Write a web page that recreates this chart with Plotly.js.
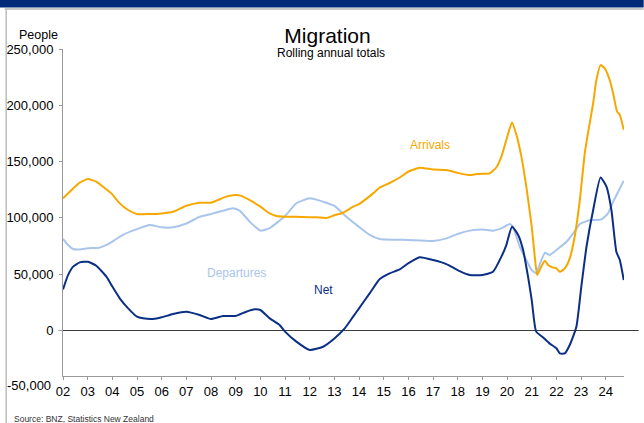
<!DOCTYPE html>
<html><head><meta charset="utf-8">
<script src="https://cdn.plot.ly/plotly-3.0.1.min.js"></script>
<style>html,body{margin:0;padding:0;background:#fff;overflow:hidden}#chart{width:644px;height:423px}</style>
</head><body><div id="chart"></div>
<script>
const yearTicks = [2002,2003,2004,2005,2006,2007,2008,2009,2010,2011,2012,2013,2014,2015,2016,2017,2018,2019,2020,2021,2022,2023,2024];
const yearTickText = ['02','03','04','05','06','07','08','09','10','11','12','13','14','15','16','17','18','19','20','21','22','23','24'];
const valueTicks = [0,50000,100000,150000,200000,250000];
const valueTickText = ['0','50,000','100,000','150,000','200,000','250,000'];
const bottomLabel = '-50,000';
const bottomValue = -50000;

const arrivalsX = [2002.00,2002.41,2002.68,2003.01,2003.35,2003.62,2003.96,2004.30,2004.64,2005.00,2005.51,2006.00,2006.46,2007.00,2007.54,2008.00,2008.22,2008.62,2009.00,2009.16,2009.57,2010.00,2010.38,2010.65,2011.00,2011.46,2012.00,2012.27,2012.68,2013.00,2013.35,2013.76,2014.00,2014.57,2014.84,2015.24,2015.65,2015.99,2016.46,2017.00,2017.54,2017.99,2018.49,2018.76,2019.00,2019.30,2019.57,2019.77,2019.97,2020.20,2020.38,2020.58,2020.78,2021.00,2021.11,2021.22,2021.35,2021.53,2021.66,2021.84,2022.00,2022.14,2022.34,2022.54,2022.74,2022.95,2023.15,2023.29,2023.49,2023.62,2023.79,2023.96,2024.16,2024.30,2024.46,2024.57,2024.73];
const arrivals = [117400,126200,131400,134500,132200,127700,121800,112900,107000,103400,103400,104000,105500,110800,113500,113500,115300,118900,120300,120000,115800,110000,104000,101700,101100,101100,100500,100500,99900,102300,104600,110000,112300,121800,127000,131000,135900,141000,144600,143000,142500,140000,138000,139000,139300,139600,145000,154400,169200,184800,173600,154400,127700,92200,68500,49300,55200,62000,58200,56100,55200,52200,55200,64100,83300,116000,157400,176600,201800,222500,235700,232800,222500,210600,194400,191500,178200];

const departuresX = [2002.00,2002.20,2002.41,2002.68,2003.01,2003.49,2003.76,2004.00,2004.43,2005.00,2005.51,2006.00,2006.46,2007.00,2007.54,2008.00,2008.49,2008.89,2009.16,2009.57,2010.00,2010.38,2011.00,2011.46,2012.00,2012.54,2013.00,2013.49,2014.00,2014.43,2014.84,2015.99,2017.00,2017.54,2017.99,2018.49,2019.00,2019.43,2019.77,2020.11,2020.24,2020.51,2020.78,2021.00,2021.18,2021.31,2021.54,2021.72,2022.00,2022.41,2022.68,2022.95,2023.35,2023.82,2024.09,2024.30,2024.50,2024.73];
const departures = [81300,76000,72400,72000,73000,73600,76000,79000,85000,90000,93700,91600,91600,95000,101000,103500,106400,108500,106400,96600,88700,91000,101700,113000,117400,114400,110600,101000,92000,85000,81300,80400,79500,81800,85700,88700,89800,88700,90700,94600,92200,74400,62600,53700,50800,58000,69000,67000,71500,78800,86300,94600,98000,98700,104000,114400,123000,133000];

const netX = [2002.00,2002.20,2002.41,2002.68,2003.01,2003.35,2003.76,2004.00,2004.30,2004.64,2005.00,2005.24,2005.65,2006.00,2006.46,2007.00,2007.54,2008.00,2008.49,2009.00,2009.43,2009.77,2010.00,2010.38,2010.78,2011.00,2011.46,2012.00,2012.54,2013.00,2013.42,2013.76,2014.00,2014.43,2014.84,2015.24,2015.65,2015.99,2016.46,2017.00,2017.54,2017.99,2018.49,2019.00,2019.43,2019.77,2019.97,2020.20,2020.45,2020.65,2020.85,2021.00,2021.18,2021.45,2021.72,2022.00,2022.14,2022.34,2022.54,2022.81,2023.01,2023.22,2023.49,2023.79,2024.03,2024.23,2024.43,2024.57,2024.73];
const net = [36500,49000,56700,60500,61000,57500,47800,39000,28600,19700,12300,10800,10200,11700,14700,16700,13800,10200,12900,12900,16700,18800,18200,10800,4900,-1000,-9900,-17300,-14400,-7000,1900,12300,19700,33000,45800,50800,54300,59600,65000,62600,59000,53700,49300,49300,52200,65600,75900,92200,84800,71500,47800,27000,-1000,-6000,-11400,-15800,-20300,-20300,-12900,3400,39000,74400,107000,136000,127700,107000,70000,62600,44800];

const colors = {Arrivals:'#f6a800', Departures:'#a9c5ec', Net:'#0a2f84'};

// Layout geometry (pixels)
const W = 644, H = 423;
const L = 63.3, R = 624.3, T = 49, B = 376;
const xRange = [2002, 2024.74];
const yRange = [-40400, 250000];
const FONT = 'Liberation Sans, Arial, sans-serif';
const px2x = p => (p - L) / (R - L);
const py2y = p => (B - p) / (B - T);
const v2paper = v => (v - yRange[0]) / (yRange[1] - yRange[0]);

const traces = [
  {x: departuresX, y: departures, name: 'Departures', line:{color: colors.Departures, width:2, shape:'spline', smoothing:0.5}},
  {x: arrivalsX, y: arrivals, name: 'Arrivals', line:{color: colors.Arrivals, width:2, shape:'spline', smoothing:0.5}},
  {x: netX, y: net, name: 'Net', line:{color: colors.Net, width:2, shape:'spline', smoothing:0.5}}
].map(t => Object.assign({type:'scatter', mode:'lines', hoverinfo:'skip', cliponaxis:false}, t));

const layout = {
  width: W, height: H,
  margin: {l: L, r: W - R, t: T, b: H - B, pad: 0},
  paper_bgcolor: '#ffffff', plot_bgcolor: 'rgba(0,0,0,0)',
  showlegend: false,
  font: {family: FONT, size: 13, color: '#000'},
  title: {text: 'Migration', font: {family: FONT, size: 21, color: '#000'},
          xref: 'container', x: 327.5 / W, xanchor: 'center',
          yref: 'container', y: 1 - 36 / H, yanchor: 'middle'},
  xaxis: {range: xRange, tickvals: yearTicks, ticktext: yearTickText,
          ticks: 'outside', ticklen: 3, tickcolor: '#9a9a9a', tickwidth: 1,
          showline: true, linecolor: '#9a9a9a', linewidth: 1,
          showgrid: false, zeroline: false,
          tickfont: {family: FONT, size: 13, color: '#000'}},
  yaxis: {range: yRange, tickvals: valueTicks, ticktext: valueTickText,
          ticks: 'outside', ticklen: 3, tickcolor: '#9a9a9a', tickwidth: 1,
          showline: true, linecolor: '#9a9a9a', linewidth: 1,
          showgrid: false, zeroline: false, ticklabelstandoff: 3,
          tickfont: {family: FONT, size: 13, color: '#000'}},
  shapes: [
    {type:'rect', xref:'paper', yref:'paper', x0: px2x(0), x1: px2x(W), y0: py2y(7.5), y1: py2y(0), fillcolor:'#002a78', line:{width:0}, layer:'below'},
    {type:'line', xref:'paper', yref:'paper', x0: px2x(5), x1: px2x(W), y0: py2y(9), y1: py2y(9), line:{color:'#b5b5b5', width:1.5}},
    {type:'line', xref:'paper', yref:'paper', x0: px2x(6.5), x1: px2x(6.5), y0: py2y(9), y1: py2y(H), line:{color:'#bdbdbd', width:1.5}},
    {type:'line', xref:'paper', yref:'paper', x0: px2x(59), x1: px2x(639), y0: v2paper(0), y1: v2paper(0), line:{color:'#3c3c3c', width:1}, layer:'below'}
  ],
  annotations: [
    {text: 'Rolling annual totals', xref:'paper', yref:'paper', x: px2x(331), y: py2y(53), xanchor:'center', yanchor:'middle', showarrow:false, font:{family:FONT, size:12, color:'#000'}},
    {text: 'People', xref:'paper', yref:'paper', x: px2x(38.5), y: py2y(35), xanchor:'center', yanchor:'middle', showarrow:false, font:{family:FONT, size:12.5, color:'#000'}},
    {text: bottomLabel, xref:'paper', yref:'paper', x: 0, y: v2paper(bottomValue), yshift: 1.5, xanchor:'right', yanchor:'middle', xshift: -9.6, showarrow:false, font:{family:FONT, size:13, color:'#000'}},
    {text: 'Source: BNZ, Statistics New Zealand', xref:'paper', yref:'paper', x: px2x(12), y: py2y(418.5), xanchor:'left', yanchor:'middle', showarrow:false, font:{family:FONT, size:8.5, color:'#333'}},
    {text: 'Arrivals', x: 2016.86, y: 164700, xanchor:'center', yanchor:'middle', showarrow:false, font:{family:FONT, size:12, color: colors.Arrivals}},
    {text: 'Departures', x: 2009.04, y: 51500, xanchor:'center', yanchor:'middle', showarrow:false, font:{family:FONT, size:12, color: colors.Departures}},
    {text: 'Net', x: 2012.57, y: 36000, xanchor:'center', yanchor:'middle', showarrow:false, font:{family:FONT, size:12, color: colors.Net}}
  ]
};

Plotly.newPlot('chart', traces, layout, {staticPlot: true, displayModeBar: false});
</script>
</body></html>
